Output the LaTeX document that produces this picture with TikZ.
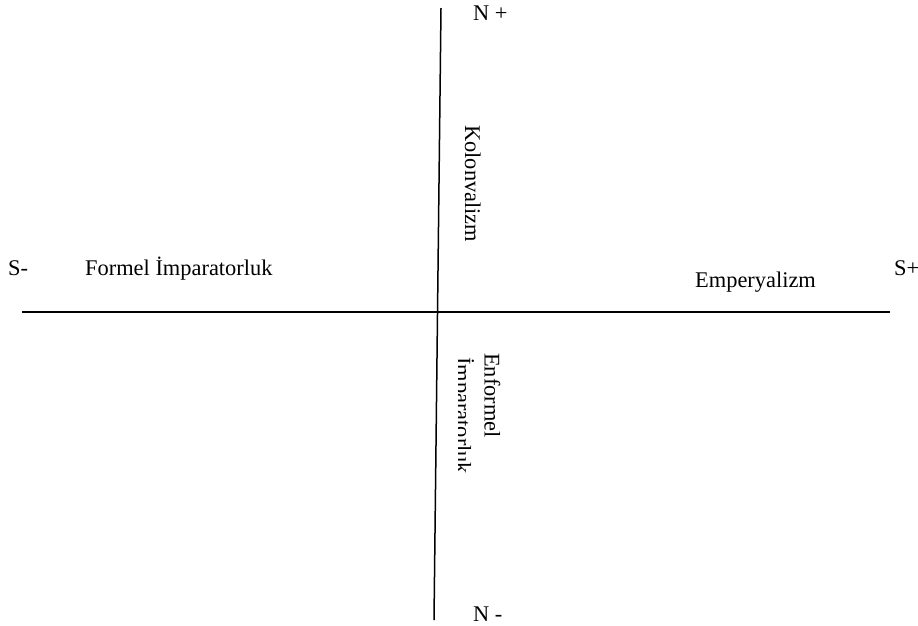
\documentclass[tikz,border=0pt]{standalone}
\usepackage{fontspec}
\setmainfont{Liberation Serif}
\begin{document}
\begin{tikzpicture}[x=1pt,y=-1pt,
  lbl/.style={inner sep=0pt,anchor=base west,font=\fontsize{22.4}{27}\selectfont},
  vlbl/.style={lbl,rotate=-90},
  axis/.style={line width=1.5pt,black}]
\useasboundingbox (0,0) rectangle (918,625);
\coordinate (ntop) at (441,8);
\coordinate (nbot) at (434,620);
\coordinate (sleft) at (22,312);
\coordinate (sright) at (890,312);
\draw[axis] (ntop) -- (nbot);
\draw[axis] (sleft) -- (sright);
\node[lbl] (sminus) at (8,275) {S-};
\node[lbl] (formel) at (85,275) {Formel İmparatorluk};
\node[lbl] (emp) at (695,287) {Emperyalizm};
\node[lbl] (splus) at (894,275) {S+};
\node[lbl] (nplus) at (473,20) {N +};
\node[lbl] (nminus) at (473,621) {N -};
\node[vlbl] (kolon) at (465,125) {Kolonvalizm};
\node[vlbl] (enf) at (484.5,353) {Enformel};
\begin{scope}
\clip (458,340) rectangle (520,490);
\node[vlbl] (imp) at (455.5,357) {İmparatorluk};
\end{scope}
\end{tikzpicture}
\end{document}
